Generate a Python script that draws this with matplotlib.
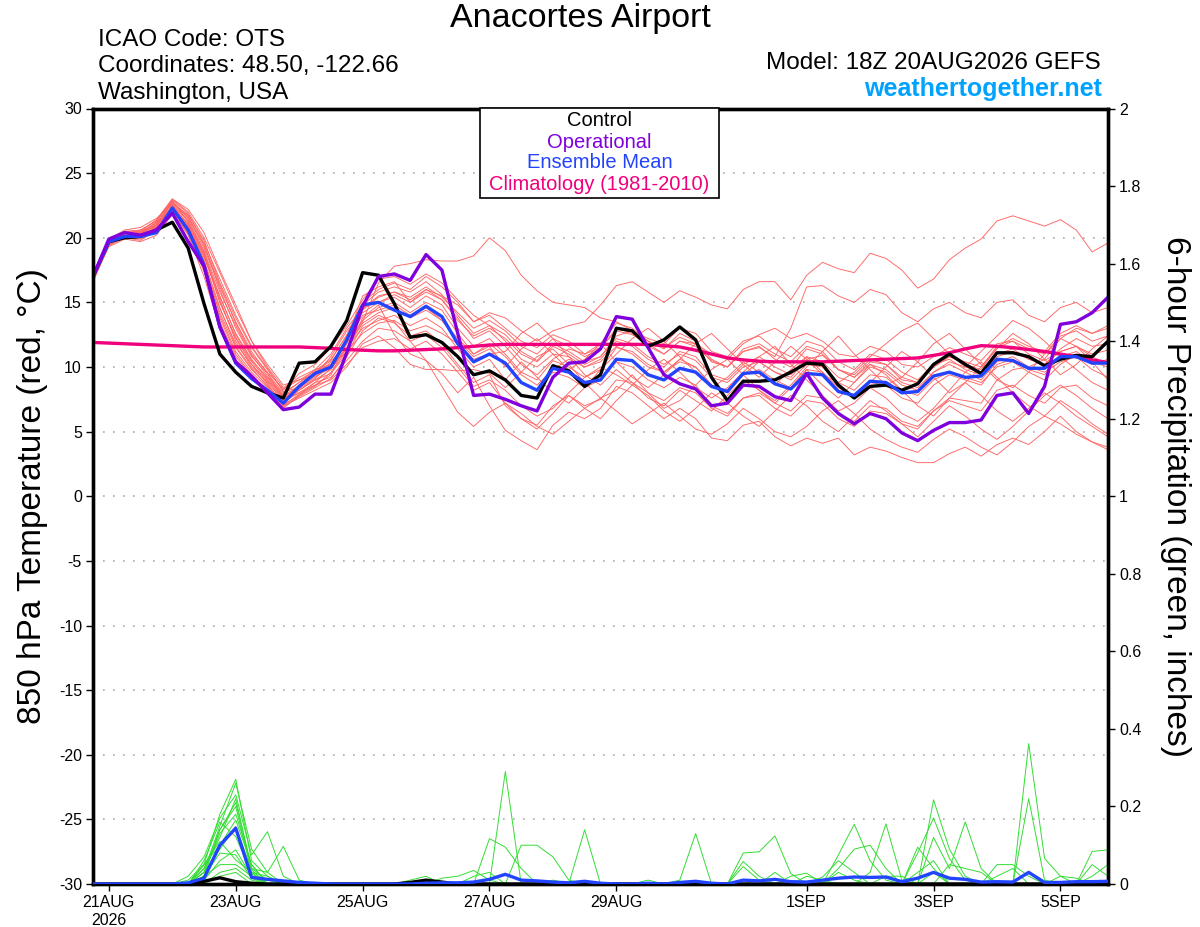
import matplotlib
matplotlib.use("Agg")
import pandas as pd
import matplotlib.pyplot as plt
from matplotlib.patches import Rectangle
from matplotlib.ticker import FuncFormatter

plt.rcParams['font.family'] = ['Liberation Sans', 'DejaVu Sans']
plt.rcParams['axes.unicode_minus'] = False

# ---------- data: 6-hourly steps from 18Z 20AUG2026 ----------
times = pd.date_range("2026-08-20 18:00", periods=65, freq="6h")

xtick_dates = ["2026-08-21", "2026-08-23", "2026-08-25", "2026-08-27",
               "2026-08-29", "2026-09-01", "2026-09-03", "2026-09-05"]
xtick_labels = ["21AUG\n2026", "23AUG", "25AUG", "27AUG", "29AUG", "1SEP", "3SEP", "5SEP"]

# 850 hPa temperature (C)
control = [
    17.0, 19.7, 20.0, 20.1, 20.6, 21.2, 19.2, 14.9, 11.0, 9.6, 8.5, 8.0, 7.6,
    10.3, 10.4, 11.6, 13.6, 17.3, 17.1, 14.9, 12.3, 12.5, 11.9, 10.8, 9.4, 9.7,
    9.0, 7.8, 7.6, 10.1, 9.7, 8.5, 9.4, 13.0, 12.8, 11.6, 12.1, 13.1, 12.1,
    9.2, 7.4, 8.9, 8.9, 9.0, 9.6, 10.3, 10.2, 8.6, 7.6, 8.5, 8.6, 8.2,
    8.7, 10.2, 11.0, 10.2, 9.5, 11.1, 11.1, 10.8, 10.1, 10.6, 10.9, 10.8, 12.0]
operational = [
    17.0, 19.9, 20.4, 20.2, 20.6, 21.9, 19.7, 17.8, 13.1, 10.4, 9.3, 8.0, 6.7,
    6.9, 7.9, 7.9, 11.1, 14.7, 17.0, 17.2, 16.7, 18.7, 17.5, 12.6, 7.8, 7.9,
    7.5, 7.0, 6.6, 9.2, 10.3, 10.4, 11.4, 13.9, 13.7, 11.5, 9.4, 8.7, 8.3,
    7.0, 7.2, 8.6, 8.5, 7.7, 7.4, 9.5, 7.6, 6.4, 5.6, 6.4, 6.0, 4.9,
    4.3, 5.1, 5.7, 5.7, 5.9, 7.8, 8.0, 6.4, 8.5, 13.3, 13.5, 14.2, 15.4]
ens_mean = [
    17.0, 19.7, 20.1, 20.1, 20.4, 22.3, 20.6, 17.9, 13.1, 10.3, 9.1, 8.2, 7.2,
    8.5, 9.5, 10.0, 12.1, 14.8, 15.0, 14.4, 13.9, 14.7, 13.9, 11.8, 10.4, 11.0,
    10.3, 8.8, 8.2, 9.9, 9.6, 8.8, 9.0, 10.6, 10.5, 9.4, 9.0, 9.9, 9.6,
    8.5, 8.1, 9.5, 9.6, 8.7, 8.3, 9.5, 9.4, 8.1, 7.8, 8.9, 8.8, 8.0,
    8.1, 9.3, 9.6, 9.2, 9.3, 10.6, 10.5, 9.9, 9.9, 10.8, 10.8, 10.3, 10.3]
climatology = [
    11.9, 11.85, 11.8, 11.75, 11.7, 11.65, 11.6, 11.55, 11.55, 11.55, 11.55, 11.55, 11.55,
    11.55, 11.5, 11.45, 11.35, 11.3, 11.25, 11.25, 11.3, 11.35, 11.4, 11.5, 11.6, 11.7,
    11.75, 11.75, 11.75, 11.75, 11.75, 11.75, 11.75, 11.75, 11.75, 11.75, 11.65, 11.55, 11.3,
    11.0, 10.7, 10.55, 10.45, 10.4, 10.4, 10.4, 10.4, 10.45, 10.5, 10.55, 10.6, 10.65,
    10.7, 10.9, 11.1, 11.4, 11.65, 11.6, 11.5, 11.35, 11.2, 11.0, 10.8, 10.55, 10.35]

# ensemble members (C)
ens01 = [
    16.8, 19.5, 20.2, 20.4, 21.0, 22.8, 21.5, 19.5, 16.0, 13.0, 10.8, 9.5, 8.0,
    8.8, 9.6, 10.5, 12.5, 15.0, 16.0, 16.5, 16.0, 17.0, 16.2, 15.0, 13.5, 14.0,
    13.0, 12.0, 11.5, 12.5, 12.0, 11.0, 11.5, 12.8, 12.5, 11.8, 11.0, 12.0, 11.6,
    10.5, 10.0, 11.2, 11.5, 10.8, 13.0, 16.2, 16.3, 15.5, 15.0, 16.0, 15.6, 14.2,
    13.5, 14.5, 15.0, 14.2, 13.8, 15.0, 15.2, 14.0, 13.5, 14.6, 15.0, 14.2, 14.6]
ens02 = [
    16.6, 19.4, 20.0, 19.8, 20.6, 22.5, 21.0, 18.2, 14.0, 11.2, 9.6, 8.4, 7.2,
    8.2, 9.0, 9.8, 11.5, 13.5, 16.5, 17.8, 18.0, 18.3, 18.2, 18.2, 18.6, 20.0,
    19.0, 17.1, 15.9, 15.0, 14.8, 14.6, 13.8, 13.5, 12.8, 12.0, 11.5, 12.3, 11.8,
    11.0, 10.6, 11.8, 12.5, 13.0, 12.2, 12.6, 12.0, 11.0, 10.8, 11.6, 11.2, 10.2,
    10.0, 10.8, 11.5, 11.0, 10.5, 11.8, 12.0, 11.0, 10.5, 11.2, 11.6, 11.0, 11.3]
ens03 = [
    17.0, 19.8, 20.5, 20.6, 21.3, 23.0, 22.0, 20.0, 17.3, 14.5, 12.0, 10.0, 8.4,
    9.2, 9.8, 10.2, 12.0, 14.5, 15.5, 15.8, 15.2, 16.0, 15.5, 14.8, 13.5, 14.2,
    13.8, 12.8, 12.0, 12.8, 13.2, 13.5, 14.8, 16.3, 16.6, 15.8, 15.0, 15.9, 15.4,
    14.8, 14.5, 16.0, 16.6, 16.6, 15.2, 17.1, 18.1, 17.6, 17.3, 18.8, 18.4, 17.5,
    16.1, 16.8, 18.3, 19.2, 19.9, 21.3, 21.7, 21.3, 20.9, 21.4, 20.6, 18.9, 19.6]
ens04 = [
    16.9, 19.6, 20.3, 20.1, 20.8, 22.0, 20.2, 17.0, 13.0, 10.5, 9.2, 8.0, 6.8,
    7.8, 8.5, 9.6, 11.2, 13.8, 14.8, 12.5, 11.0, 10.5, 9.5, 8.0, 9.2, 7.0,
    5.1, 4.3, 3.6, 5.5, 6.5, 6.0, 6.8, 8.5, 8.0, 7.0, 6.0, 6.8, 6.0,
    4.5, 4.3, 5.5, 5.8, 4.6, 3.9, 4.5, 4.1, 4.5, 3.2, 3.8, 3.5, 3.0,
    2.6, 2.6, 3.3, 3.8, 3.1, 4.0, 4.5, 4.0, 5.0, 6.2, 5.0, 4.2, 3.6]
ens05 = [
    16.7, 19.3, 19.9, 19.7, 20.2, 21.8, 20.5, 18.0, 14.5, 11.8, 10.2, 8.9, 7.5,
    8.0, 8.8, 9.2, 10.5, 12.0, 13.0, 12.8, 12.0, 12.5, 11.5, 10.0, 8.5, 9.0,
    8.2, 7.0, 6.2, 6.8, 8.0, 9.2, 10.0, 9.4, 8.6, 9.8, 10.6, 9.6, 8.4,
    7.6, 8.4, 9.6, 10.8, 11.6, 10.2, 9.0, 7.8, 6.6, 7.2, 8.4, 7.6, 6.4,
    5.8, 6.8, 8.2, 9.6, 10.4, 9.2, 8.0, 7.0, 6.2, 7.4, 6.6, 5.6, 4.8]
ens06 = [
    17.1, 19.9, 20.6, 20.8, 21.5, 22.6, 21.8, 19.8, 16.5, 13.8, 11.5, 9.8, 8.2,
    9.5, 10.2, 11.5, 13.2, 15.2, 16.8, 17.0, 16.4, 17.2, 16.5, 15.2, 14.0, 13.2,
    12.5, 11.2, 10.5, 11.8, 11.2, 10.4, 10.8, 12.2, 11.8, 10.8, 10.2, 11.0, 10.5,
    9.2, 8.8, 10.0, 10.4, 9.6, 9.2, 10.6, 10.9, 9.8, 9.4, 10.6, 10.2, 9.0,
    8.8, 10.0, 10.8, 10.2, 9.8, 11.5, 12.0, 11.4, 11.0, 12.4, 12.8, 12.0, 12.4]
ens07 = [
    16.8, 19.7, 20.2, 20.0, 20.9, 22.9, 21.2, 18.8, 15.0, 12.2, 10.2, 8.7, 7.0,
    7.6, 8.2, 8.8, 10.0, 11.8, 12.4, 11.5, 10.2, 9.8, 9.8, 9.7, 9.8, 9.5,
    8.4, 9.6, 10.8, 11.4, 10.2, 8.8, 7.6, 8.2, 9.4, 8.0, 6.8, 7.4, 8.6,
    9.8, 10.6, 9.4, 8.2, 7.4, 8.6, 10.0, 11.2, 12.4, 11.0, 9.8, 8.6, 9.2,
    10.4, 11.8, 12.6, 11.4, 10.2, 9.0, 8.4, 9.6, 11.0, 12.2, 11.6, 10.4, 9.0]
ens08 = [
    16.9, 19.5, 20.1, 20.3, 21.2, 22.3, 20.8, 18.5, 15.5, 12.5, 10.5, 9.2, 7.8,
    8.5, 9.4, 10.8, 12.8, 14.2, 15.0, 15.4, 14.6, 15.5, 14.8, 13.0, 11.6, 12.2,
    11.0, 9.6, 9.0, 10.5, 10.0, 9.2, 9.8, 11.5, 11.2, 10.2, 9.6, 10.6, 10.0,
    8.6, 8.0, 9.4, 9.8, 9.0, 8.4, 9.8, 9.6, 8.2, 7.6, 8.8, 8.6, 7.6,
    7.2, 8.6, 9.4, 9.0, 8.6, 10.2, 10.6, 9.8, 9.4, 10.8, 11.2, 10.4, 10.0]
ens09 = [
    17.0, 19.8, 20.4, 20.2, 21.0, 22.7, 21.6, 19.2, 16.2, 13.5, 11.2, 9.5, 7.6,
    8.2, 9.0, 9.5, 11.0, 13.2, 14.0, 13.5, 12.0, 10.5, 8.5, 6.5, 5.4, 6.5,
    7.2, 6.0, 5.5, 7.0, 7.8, 7.0, 7.5, 9.0, 8.8, 8.0, 7.4, 8.4, 8.0,
    6.8, 6.2, 7.6, 8.0, 7.2, 6.6, 7.8, 7.6, 6.4, 5.8, 7.0, 6.8, 5.8,
    5.4, 6.6, 7.4, 7.0, 6.6, 8.2, 8.6, 7.8, 7.2, 8.4, 8.6, 7.6, 7.0]
ens10 = [
    16.7, 19.6, 20.0, 19.9, 20.5, 22.2, 20.4, 17.6, 13.8, 11.0, 9.4, 8.2, 7.0,
    7.9, 8.6, 9.4, 11.8, 14.8, 15.8, 16.2, 15.8, 16.6, 15.6, 14.0, 12.6, 13.2,
    12.0, 10.6, 10.0, 11.0, 10.8, 10.0, 10.6, 12.0, 11.6, 10.6, 10.0, 11.2, 10.8,
    9.4, 9.0, 10.2, 10.8, 10.0, 9.4, 10.8, 10.4, 9.2, 8.8, 10.0, 9.6, 8.6,
    8.2, 9.6, 10.4, 10.0, 9.6, 11.0, 11.4, 10.6, 10.2, 11.2, 11.6, 10.8, 10.2]
ens11 = [
    16.8, 19.4, 20.1, 20.5, 21.4, 23.0, 22.2, 20.4, 17.5, 14.8, 12.0, 10.2, 8.6,
    9.0, 9.4, 10.0, 11.2, 12.6, 13.4, 13.6, 12.8, 13.2, 12.6, 11.8, 10.6, 11.0,
    11.2, 12.6, 13.4, 12.2, 10.8, 9.4, 8.6, 9.8, 8.8, 7.6, 7.0, 8.2, 7.4,
    6.6, 7.8, 9.0, 8.2, 7.2, 8.4, 9.8, 8.6, 7.6, 8.8, 10.2, 9.4, 8.2,
    7.0, 6.2, 7.6, 8.8, 7.8, 6.6, 5.8, 6.8, 8.0, 7.2, 6.2, 5.4, 4.6]
ens12 = [
    17.0, 19.7, 20.3, 20.3, 20.9, 22.4, 21.0, 18.6, 15.2, 12.0, 10.0, 8.8, 7.4,
    8.6, 9.6, 10.2, 12.2, 15.5, 16.2, 16.6, 15.0, 15.8, 15.2, 13.8, 12.2, 12.8,
    11.6, 10.2, 9.4, 10.6, 11.4, 11.0, 11.8, 13.4, 13.0, 12.0, 11.4, 12.6, 12.0,
    10.6, 10.0, 11.4, 11.8, 11.0, 10.4, 11.6, 11.2, 9.8, 9.2, 10.2, 9.8, 8.8,
    8.4, 9.6, 10.2, 9.6, 9.0, 10.4, 10.8, 10.0, 9.6, 10.4, 10.8, 9.8, 9.2]
ens13 = [
    16.6, 19.5, 20.2, 20.0, 20.7, 22.1, 20.6, 17.8, 14.2, 11.5, 9.8, 8.6, 7.3,
    8.0, 8.6, 9.0, 10.2, 11.5, 12.0, 12.2, 11.4, 12.0, 11.0, 9.6, 8.2, 8.8,
    7.2, 6.4, 5.4, 4.8, 5.8, 6.8, 7.6, 6.6, 5.6, 6.4, 7.2, 6.2, 5.2,
    4.8, 5.6, 6.8, 6.0, 5.0, 4.6, 5.4, 6.6, 7.4, 6.4, 5.2, 4.4, 3.8,
    3.4, 4.4, 5.2, 4.6, 3.8, 3.2, 4.2, 5.4, 6.2, 5.6, 4.8, 4.2, 3.8]
ens14 = [
    16.9, 19.7, 20.4, 20.5, 21.1, 22.6, 21.4, 19.0, 15.8, 13.2, 10.9, 9.3, 7.9,
    8.8, 9.8, 11.0, 13.0, 14.6, 15.0, 15.6, 15.0, 16.0, 15.2, 13.6, 12.4, 13.0,
    12.2, 11.0, 10.4, 11.6, 11.0, 10.2, 10.8, 12.4, 12.8, 12.2, 11.8, 13.0, 12.6,
    11.2, 10.8, 12.0, 12.4, 11.4, 10.8, 12.0, 11.6, 10.4, 9.8, 11.0, 10.6, 9.6,
    9.0, 10.2, 10.6, 9.8, 9.4, 10.8, 11.2, 10.6, 10.2, 11.4, 12.2, 11.6, 11.8]
ens15 = [
    17.1, 19.9, 20.5, 20.4, 21.2, 22.9, 21.9, 19.6, 16.8, 14.0, 11.6, 9.9, 8.1,
    8.4, 9.2, 10.0, 11.5, 13.0, 13.6, 14.0, 13.2, 13.8, 13.0, 11.4, 10.0, 10.6,
    9.0, 10.4, 9.2, 8.0, 7.2, 8.4, 9.8, 11.0, 12.2, 13.0, 12.0, 10.8, 9.6,
    8.4, 9.2, 10.4, 9.6, 8.6, 9.8, 10.8, 9.6, 8.4, 7.6, 8.8, 10.0, 11.2,
    10.4, 9.2, 8.0, 8.8, 10.0, 11.4, 12.6, 11.8, 10.6, 9.4, 10.2, 11.4, 12.4]
ens16 = [
    16.8, 19.6, 20.2, 20.2, 20.7, 22.3, 20.9, 18.3, 14.6, 11.6, 9.9, 8.5, 7.1,
    7.8, 8.8, 9.9, 12.0, 14.0, 14.4, 14.8, 14.0, 14.6, 13.6, 12.0, 10.8, 11.4,
    10.2, 8.8, 8.2, 9.6, 9.2, 8.4, 9.0, 10.4, 10.0, 9.0, 8.4, 9.2, 8.6,
    7.0, 6.4, 7.6, 7.8, 6.8, 6.2, 7.4, 7.2, 6.0, 5.4, 6.6, 6.4, 5.6,
    5.2, 6.6, 7.6, 7.4, 7.2, 9.0, 9.8, 10.0, 10.6, 12.2, 13.0, 12.6, 13.2]
ens17 = [
    16.7, 19.5, 20.0, 20.0, 20.8, 22.5, 21.3, 18.9, 15.4, 12.6, 10.6, 9.1, 7.7,
    8.3, 9.1, 10.4, 11.8, 13.6, 14.6, 15.0, 14.2, 15.0, 14.4, 12.6, 11.0, 11.6,
    10.0, 11.4, 12.2, 11.0, 9.8, 10.6, 11.8, 10.4, 9.2, 8.4, 9.4, 10.6, 11.8,
    12.6, 11.4, 10.2, 9.2, 10.4, 11.6, 10.6, 9.4, 8.8, 9.6, 10.8, 11.8, 12.8,
    13.4, 12.2, 11.0, 10.0, 11.2, 12.4, 13.6, 13.0, 12.0, 10.8, 9.8, 8.8, 8.2]
ens18 = [
    17.0, 19.8, 20.3, 20.6, 21.3, 22.8, 21.7, 19.4, 16.4, 13.4, 11.0, 9.6, 8.3,
    9.0, 9.7, 10.6, 12.4, 14.4, 15.4, 15.8, 15.4, 16.2, 15.4, 14.2, 13.0, 13.6,
    12.8, 11.6, 11.0, 12.2, 11.6, 10.8, 11.4, 13.0, 12.6, 11.6, 11.0, 12.0, 11.8,
    10.4, 10.0, 11.2, 11.6, 10.6, 10.0, 11.4, 11.0, 9.8, 9.2, 10.4, 10.2, 9.2,
    8.8, 10.0, 10.8, 10.4, 10.0, 11.6, 12.2, 11.6, 11.2, 12.6, 13.2, 12.6, 13.0]
ens19 = [
    16.9, 19.6, 20.2, 20.1, 20.6, 22.0, 20.3, 17.4, 13.5, 10.8, 9.3, 8.1, 6.9,
    7.7, 8.4, 9.1, 10.8, 12.8, 13.8, 13.4, 12.4, 12.8, 11.8, 10.2, 8.8, 9.4,
    7.0, 6.0, 5.2, 6.4, 7.8, 6.8, 6.0, 7.4, 8.6, 7.8, 6.6, 5.8, 6.8,
    8.0, 7.2, 6.2, 5.4, 6.6, 7.8, 7.0, 5.8, 5.0, 6.2, 7.4, 6.6, 5.6,
    4.6, 5.8, 7.0, 6.2, 5.2, 4.4, 5.4, 6.6, 7.8, 8.6, 7.8, 6.8, 6.0]
ens20 = [
    16.8, 19.7, 20.4, 20.3, 21.0, 22.4, 21.1, 18.7, 15.0, 12.3, 10.4, 9.0, 7.6,
    8.6, 9.3, 9.9, 11.4, 13.4, 14.2, 14.6, 13.8, 14.4, 13.6, 12.2, 11.0, 11.8,
    10.8, 9.4, 8.6, 9.8, 10.6, 10.0, 10.4, 11.6, 11.0, 10.0, 9.6, 10.4, 10.0,
    8.6, 8.2, 9.4, 10.4, 9.6, 9.0, 10.2, 10.0, 8.8, 8.2, 9.4, 9.2, 8.2,
    7.8, 9.0, 9.6, 9.2, 8.8, 10.0, 10.4, 9.6, 9.0, 10.2, 11.0, 10.2, 10.6]

# 6-hour precipitation (inches)
pcp_mean = [
    0, 0, 0, 0, 0, 0, 0.003, 0.015, 0.10, 0.144, 0.017, 0.012, 0.008,
    0.004, 0.002, 0, 0, 0, 0, 0, 0, 0.002, 0.003, 0.003, 0.005, 0.012,
    0.025, 0.01, 0.008, 0.005, 0.003, 0.007, 0.002, 0, 0, 0.002, 0, 0.004, 0.007,
    0.002, 0, 0.01, 0.008, 0.012, 0.006, 0.005, 0.01, 0.015, 0.018, 0.017, 0.018, 0.006,
    0.015, 0.03, 0.015, 0.012, 0.005, 0.006, 0.005, 0.03, 0.004, 0.004, 0.006, 0.006, 0.007]
pcp_control = [
    0, 0, 0, 0, 0, 0, 0, 0.007, 0.016, 0.006, 0.002, 0, 0,
    0, 0, 0, 0, 0, 0, 0, 0.004, 0.01, 0.005, 0, 0, 0,
    0, 0, 0, 0, 0, 0, 0, 0, 0, 0, 0, 0, 0,
    0, 0, 0, 0, 0, 0, 0, 0, 0, 0, 0, 0, 0,
    0, 0, 0, 0, 0, 0, 0, 0, 0, 0, 0, 0, 0]

pcp01 = [
    0, 0, 0, 0, 0, 0, 0, 0.05, 0.18, 0.27, 0.06, 0.02, 0,
    0, 0, 0, 0, 0, 0, 0, 0, 0, 0, 0, 0, 0.117,
    0.095, 0.04, 0, 0, 0, 0, 0, 0, 0, 0, 0, 0.01, 0.13,
    0, 0, 0, 0, 0, 0, 0, 0, 0, 0, 0, 0, 0,
    0, 0.217, 0.09, 0.02, 0, 0, 0, 0, 0, 0, 0, 0, 0]
pcp02 = [
    0, 0, 0, 0, 0, 0, 0, 0.03, 0.15, 0.26, 0.09, 0.03, 0,
    0, 0, 0, 0, 0, 0, 0, 0, 0, 0, 0, 0, 0,
    0.29, 0, 0, 0, 0, 0, 0, 0, 0, 0, 0, 0, 0,
    0, 0, 0, 0, 0, 0, 0, 0, 0, 0, 0, 0, 0,
    0.08, 0.17, 0.066, 0.01, 0, 0, 0, 0, 0, 0, 0, 0, 0]
pcp03 = [
    0, 0, 0, 0, 0, 0, 0.02, 0.07, 0.17, 0.23, 0.075, 0.135, 0.02,
    0, 0, 0, 0, 0, 0, 0, 0, 0, 0, 0, 0, 0,
    0, 0, 0, 0, 0, 0, 0, 0, 0, 0, 0, 0, 0,
    0, 0, 0, 0, 0, 0, 0, 0, 0, 0, 0, 0, 0,
    0, 0, 0, 0, 0, 0, 0, 0.362, 0.066, 0.02, 0, 0, 0]
pcp04 = [
    0, 0, 0, 0, 0, 0, 0, 0.04, 0.12, 0.22, 0.04, 0.03, 0.097,
    0.01, 0, 0, 0, 0, 0, 0, 0, 0, 0, 0, 0, 0,
    0, 0, 0, 0, 0, 0, 0, 0, 0, 0, 0, 0, 0,
    0, 0, 0.08, 0.083, 0.124, 0.027, 0, 0, 0, 0, 0, 0, 0,
    0, 0, 0, 0, 0, 0, 0, 0, 0, 0, 0, 0, 0]
pcp05 = [
    0, 0, 0, 0, 0, 0, 0, 0.02, 0.14, 0.20, 0.03, 0.02, 0,
    0, 0, 0, 0, 0, 0, 0, 0, 0, 0, 0, 0, 0,
    0, 0.10, 0.10, 0.07, 0.01, 0, 0, 0, 0, 0, 0, 0, 0,
    0, 0, 0, 0, 0, 0, 0, 0, 0.075, 0.154, 0.06, 0.01, 0,
    0, 0, 0, 0, 0, 0, 0, 0, 0, 0, 0, 0, 0]
pcp06 = [
    0, 0, 0, 0, 0, 0, 0, 0.05, 0.10, 0.165, 0.05, 0, 0,
    0, 0, 0, 0, 0, 0, 0, 0, 0, 0, 0, 0, 0,
    0, 0, 0, 0, 0, 0.14, 0, 0, 0, 0, 0, 0, 0,
    0, 0, 0, 0, 0, 0, 0, 0, 0.04, 0.09, 0.10, 0.04, 0,
    0, 0, 0, 0, 0, 0, 0, 0, 0, 0, 0, 0.084, 0.088]
pcp07 = [
    0, 0, 0, 0, 0, 0, 0, 0.03, 0.09, 0.148, 0.036, 0, 0,
    0, 0, 0, 0, 0, 0, 0, 0, 0, 0, 0, 0, 0,
    0, 0, 0, 0, 0, 0, 0, 0, 0, 0, 0, 0, 0,
    0, 0, 0, 0, 0, 0, 0, 0, 0, 0, 0.03, 0.155, 0.01,
    0, 0, 0, 0, 0, 0, 0, 0.22, 0.01, 0, 0, 0, 0]
pcp08 = [
    0, 0, 0, 0, 0, 0, 0, 0.06, 0.16, 0.122, 0.027, 0, 0,
    0, 0, 0, 0, 0, 0, 0, 0, 0, 0, 0, 0, 0,
    0, 0, 0, 0, 0, 0, 0, 0, 0, 0, 0, 0, 0,
    0, 0, 0, 0, 0, 0, 0, 0, 0, 0, 0, 0, 0,
    0, 0.12, 0.04, 0.16, 0.04, 0, 0, 0, 0, 0, 0, 0, 0]
pcp09 = [
    0, 0, 0, 0, 0, 0, 0, 0.01, 0.06, 0.088, 0.02, 0, 0,
    0, 0, 0, 0, 0, 0, 0, 0, 0, 0, 0, 0, 0,
    0, 0, 0, 0, 0, 0, 0, 0, 0, 0, 0, 0, 0,
    0, 0, 0.058, 0.02, 0, 0, 0, 0, 0, 0, 0, 0, 0,
    0, 0, 0, 0, 0, 0.05, 0.05, 0.02, 0, 0, 0, 0, 0]
pcp10 = [
    0, 0, 0, 0, 0, 0, 0, 0.02, 0.08, 0.075, 0.015, 0, 0,
    0, 0, 0, 0, 0, 0, 0, 0, 0, 0.015, 0.02, 0.035, 0.01,
    0, 0, 0, 0, 0, 0, 0, 0, 0, 0, 0, 0, 0,
    0, 0, 0, 0, 0, 0, 0, 0, 0, 0, 0, 0, 0,
    0.095, 0.04, 0, 0, 0, 0, 0, 0, 0, 0, 0, 0.05, 0.02]
pcp11 = [
    0, 0, 0, 0, 0, 0, 0.01, 0.05, 0.11, 0.062, 0.03, 0, 0,
    0, 0, 0, 0, 0, 0, 0, 0, 0, 0, 0, 0, 0,
    0, 0, 0, 0, 0, 0, 0, 0, 0, 0, 0, 0, 0,
    0, 0, 0.045, 0.01, 0, 0, 0, 0.018, 0.06, 0.03, 0, 0, 0,
    0, 0, 0.05, 0.04, 0.03, 0, 0, 0, 0, 0, 0, 0, 0]
pcp12 = [
    0, 0, 0, 0, 0, 0, 0, 0.02, 0.05, 0.05, 0.02, 0, 0,
    0, 0, 0, 0, 0, 0, 0, 0, 0, 0, 0, 0, 0,
    0, 0, 0, 0, 0, 0, 0, 0, 0, 0.01, 0, 0, 0,
    0, 0, 0, 0, 0, 0.02, 0.028, 0, 0, 0, 0, 0, 0,
    0, 0, 0, 0, 0, 0.02, 0.04, 0, 0, 0, 0, 0, 0]
pcp13 = [
    0, 0, 0, 0, 0, 0, 0, 0, 0.03, 0.04, 0.01, 0, 0,
    0, 0, 0, 0, 0, 0, 0, 0.01, 0.02, 0, 0, 0, 0,
    0, 0, 0, 0, 0, 0, 0, 0, 0, 0, 0, 0, 0,
    0, 0, 0, 0, 0, 0, 0, 0, 0, 0, 0, 0, 0,
    0.03, 0.06, 0, 0, 0, 0, 0, 0, 0, 0.02, 0.015, 0, 0]
pcp14 = [
    0, 0, 0, 0, 0, 0, 0, 0.03, 0.13, 0.18, 0.05, 0, 0,
    0, 0, 0, 0, 0, 0, 0, 0, 0, 0, 0, 0.02, 0.03,
    0, 0, 0, 0, 0, 0, 0, 0, 0, 0, 0, 0, 0,
    0, 0, 0, 0, 0, 0, 0.02, 0.01, 0, 0, 0, 0, 0,
    0, 0.03, 0, 0, 0, 0, 0, 0, 0, 0, 0, 0, 0]
pcp15 = [
    0, 0, 0, 0, 0, 0, 0, 0, 0.02, 0.03, 0, 0, 0,
    0, 0, 0, 0, 0, 0, 0, 0, 0, 0, 0, 0, 0,
    0, 0, 0, 0.01, 0, 0, 0, 0, 0, 0, 0, 0, 0,
    0, 0, 0, 0, 0, 0, 0, 0, 0.03, 0.01, 0, 0, 0,
    0, 0, 0, 0, 0, 0, 0, 0, 0, 0, 0, 0.02, 0.05]
pcp16 = [
    0, 0, 0, 0, 0, 0, 0, 0.04, 0.14, 0.21, 0.04, 0.01, 0,
    0, 0, 0, 0, 0, 0, 0, 0, 0, 0, 0, 0, 0,
    0, 0, 0, 0, 0, 0, 0, 0, 0, 0, 0, 0, 0,
    0, 0, 0, 0, 0.03, 0, 0, 0, 0, 0, 0, 0.02, 0.02,
    0, 0, 0, 0, 0, 0, 0, 0, 0, 0, 0, 0, 0]

members = [ens01, ens02, ens03, ens04, ens05, ens06, ens07, ens08, ens09, ens10,
           ens11, ens12, ens13, ens14, ens15, ens16, ens17, ens18, ens19, ens20]
pcp_members = [pcp01, pcp02, pcp03, pcp04, pcp05, pcp06, pcp07, pcp08,
               pcp09, pcp10, pcp11, pcp12, pcp13, pcp14, pcp15, pcp16]

for s in members + pcp_members + [control, operational, ens_mean, climatology, pcp_mean, pcp_control]:
    assert len(s) == len(times), len(s)

# ---------- colours ----------
C_MEMBER = "#ff6464"
C_PCP = "#33dd33"
C_OPER = "#8000dd"
C_MEAN = "#2244ff"
C_CLIMO = "#f0007c"
C_LINK = "#00a2ff"

W, H = 1200, 927
fig = plt.figure(figsize=(W / 100, H / 100), dpi=100)
ax = fig.add_axes([93 / W, 1 - 884 / H, 1015 / W, 775.5 / H])

# temperature lines
for m in members:
    ax.plot(times, m, color=C_MEMBER, lw=0.65, zorder=2)
ax.plot(times, climatology, color=C_CLIMO, lw=2.4, zorder=3)
ax.plot(times, control, color="black", lw=2.4, zorder=4)
ax.plot(times, ens_mean, color=C_MEAN, lw=2.4, zorder=5)
ax.plot(times, operational, color=C_OPER, lw=2.4, zorder=6)

ax.set_xlim(times[0], times[-1])
ax.set_ylim(-30, 30)
ax.set_yticks(range(-30, 31, 5))
ax.set_xticks(pd.to_datetime(xtick_dates))
ax.set_xticklabels(xtick_labels, multialignment="center")
ax.grid(axis="y", color="#aaaaaa", linestyle=(0, (1, 5)), lw=1.2)
ax.set_axisbelow(True)
ax.tick_params(axis="both", direction="out", length=5, width=1, labelsize=11.5, pad=3)

# precipitation on right axis
ax2 = ax.twinx()
for p in pcp_members:
    ax2.plot(times, p, color=C_PCP, lw=0.7, zorder=2)
ax2.plot(times, pcp_control, color="black", lw=2.4, zorder=3)
ax2.plot(times, pcp_mean, color=C_MEAN, lw=2.4, zorder=4)
ax2.set_ylim(0, 2)
ax2.set_yticks([0, 0.2, 0.4, 0.6, 0.8, 1.0, 1.2, 1.4, 1.6, 1.8, 2.0])
ax2.yaxis.set_major_formatter(FuncFormatter(lambda v, _: f"{v:g}"))
ax2.tick_params(axis="y", direction="out", length=5, width=1, labelsize=11.5, pad=3)

for a in (ax, ax2):
    for sp in a.spines.values():
        sp.set_linewidth(2.4)

# axis titles
fig.text(33 / W, 1 - 496 / H, "850 hPa Temperature (red, °C)", rotation=90,
         ha="center", va="center", fontsize=24)
fig.text(1175 / W, 1 - 496 / H, "6-hour Precipitation (green, inches)", rotation=270,
         ha="center", va="center", fontsize=24)

# header
fig.text(580 / W, 1 - 19 / H, "Anacortes Airport", ha="center", va="center", fontsize=24.5)
fig.text(98 / W, 1 - 40 / H, "ICAO Code: OTS", ha="left", va="center", fontsize=17.5)
fig.text(98 / W, 1 - 66 / H, "Coordinates: 48.50, -122.66", ha="left", va="center", fontsize=17.5)
fig.text(98 / W, 1 - 93 / H, "Washington, USA", ha="left", va="center", fontsize=17.5)
fig.text(1101 / W, 1 - 63 / H, "Model: 18Z 20AUG2026 GEFS", ha="right", va="center", fontsize=17.5)
fig.text(1102 / W, 1 - 89 / H, "weathertogether.net", ha="right", va="center",
         fontsize=18, fontweight="bold", color=C_LINK)

# legend box
fig.patches.append(Rectangle((480 / W, 1 - 198 / H), 239 / W, 90 / H, transform=fig.transFigure,
                             facecolor="white", edgecolor="black", lw=1.2, zorder=10))
legend_rows = [("Control", "black", 121), ("Operational", C_OPER, 142),
               ("Ensemble Mean", C_MEAN, 163), ("Climatology (1981-2010)", C_CLIMO, 185)]
for txt, col, ypx in legend_rows:
    fig.text(599.5 / W, 1 - ypx / H, txt, color=col, ha="center", va="center",
             fontsize=14.5, zorder=11)

fig.savefig("out.png", dpi=100)
